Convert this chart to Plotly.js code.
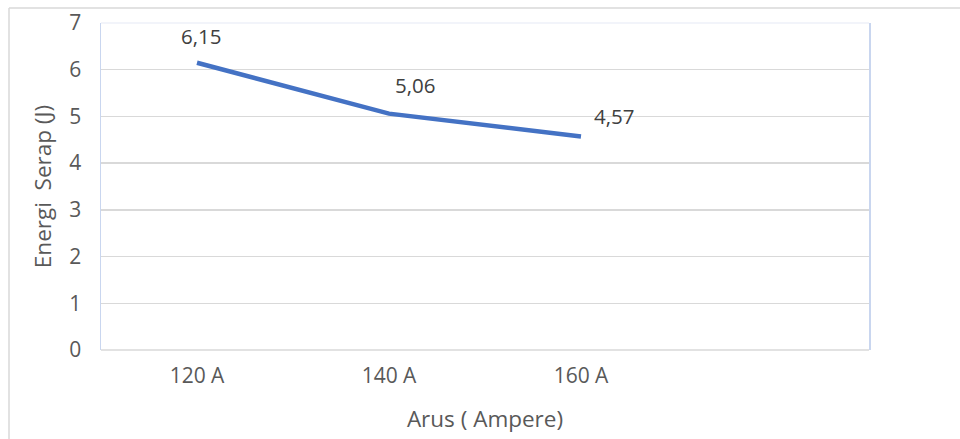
<!DOCTYPE html>
<html>
<head>
<meta charset="utf-8">
<script src="https://cdn.plot.ly/plotly-3.0.1.min.js"></script>
<style>
  html, body { margin: 0; padding: 0; background: #fff; }
  #chart { width: 960px; height: 439px; }
</style>
</head>
<body>
<div id="chart"></div>
<script>
// Data
const categories = ['120 A', '140 A', '160 A', ' '];
const energiSerap = [6.15, 5.06, 4.57];
const yTicks = [0, 1, 2, 3, 4, 5, 6, 7];

// Label offsets (pixels) – style only
const labelDx = [4, 26, 33];
const labelDy = [27, 29, 21];

const W = 960, H = 439;
const L = 101, R = 91, T = 23, B = 89;
const pw = W - L - R, ph = H - T - B;
const px = x => (x - L) / pw;
const py = y => (H - B - y) / ph;

const fmt = v => v.toFixed(2).replace('.', ',');
const xs = categories.slice(0, energiSerap.length);

const FONT = '"Open Sans", "Noto Sans", sans-serif';

const trace = {
  type: 'scatter',
  mode: 'lines',
  x: xs,
  y: energiSerap,
  line: { color: '#4472C4', width: 4.5 },
  hoverinfo: 'skip',
  showlegend: false
};

const annotations = energiSerap.map((v, i) => ({
  x: xs[i], y: v, xref: 'x', yref: 'y',
  text: fmt(v), showarrow: false,
  xshift: labelDx[i], yshift: labelDy[i],
  font: { family: FONT, size: 20.5, color: '#404040' }
}));

const gray = '#d9d9d9';
const layout = {
  width: W, height: H,
  margin: { l: L, r: R, t: T, b: B },
  paper_bgcolor: '#ffffff',
  plot_bgcolor: '#ffffff',
  font: { family: FONT, size: 21, color: '#595959' },
  xaxis: {
    type: 'category',
    categoryorder: 'array',
    categoryarray: categories,
    range: [-0.5, categories.length - 0.5],
    tickvals: categories,
    tickfont: { family: FONT, size: 21, color: '#595959' },
    showgrid: false,
    zeroline: false,
    showline: false,
    ticks: '',
    ticklabelstandoff: 11,
    fixedrange: true,
    title: { text: 'Arus ( Ampere)', standoff: 23, font: { family: FONT, size: 22.5, color: '#595959' } }
  },
  yaxis: {
    range: [0, 7],
    tickvals: yTicks,
    tickfont: { family: FONT, size: 21, color: '#595959' },
    showgrid: true,
    gridcolor: gray,
    gridwidth: 1.5,
    zeroline: false,
    showline: true,
    mirror: true,
    linecolor: '#c9d6ef',
    linewidth: 1.5,
    ticks: '',
    ticklabelstandoff: 14,
    fixedrange: true,
    title: { text: 'Energi  Serap (J)', standoff: 11, font: { family: FONT, size: 22.5, color: '#595959' } }
  },
  annotations: annotations,
  shapes: [
    { type: 'line', xref: 'paper', yref: 'paper', x0: 0, x1: 1, y0: 0, y1: 0,
      line: { color: gray, width: 1.5 }, layer: 'below' },
    { type: 'line', xref: 'paper', yref: 'paper', x0: 0, x1: 1, y0: 1, y1: 1,
      line: { color: '#eef1f8', width: 1.5 }, layer: 'below' },
    { type: 'line', xref: 'paper', yref: 'paper', x0: px(9), x1: px(960), y0: py(8), y1: py(8),
      line: { color: gray, width: 1.5 } },
    { type: 'line', xref: 'paper', yref: 'paper', x0: px(9), x1: px(9), y0: py(8), y1: py(439),
      line: { color: gray, width: 1.5 } }
  ]
};

Plotly.newPlot('chart', [trace], layout, { displayModeBar: false, staticPlot: true });
</script>
</body>
</html>
